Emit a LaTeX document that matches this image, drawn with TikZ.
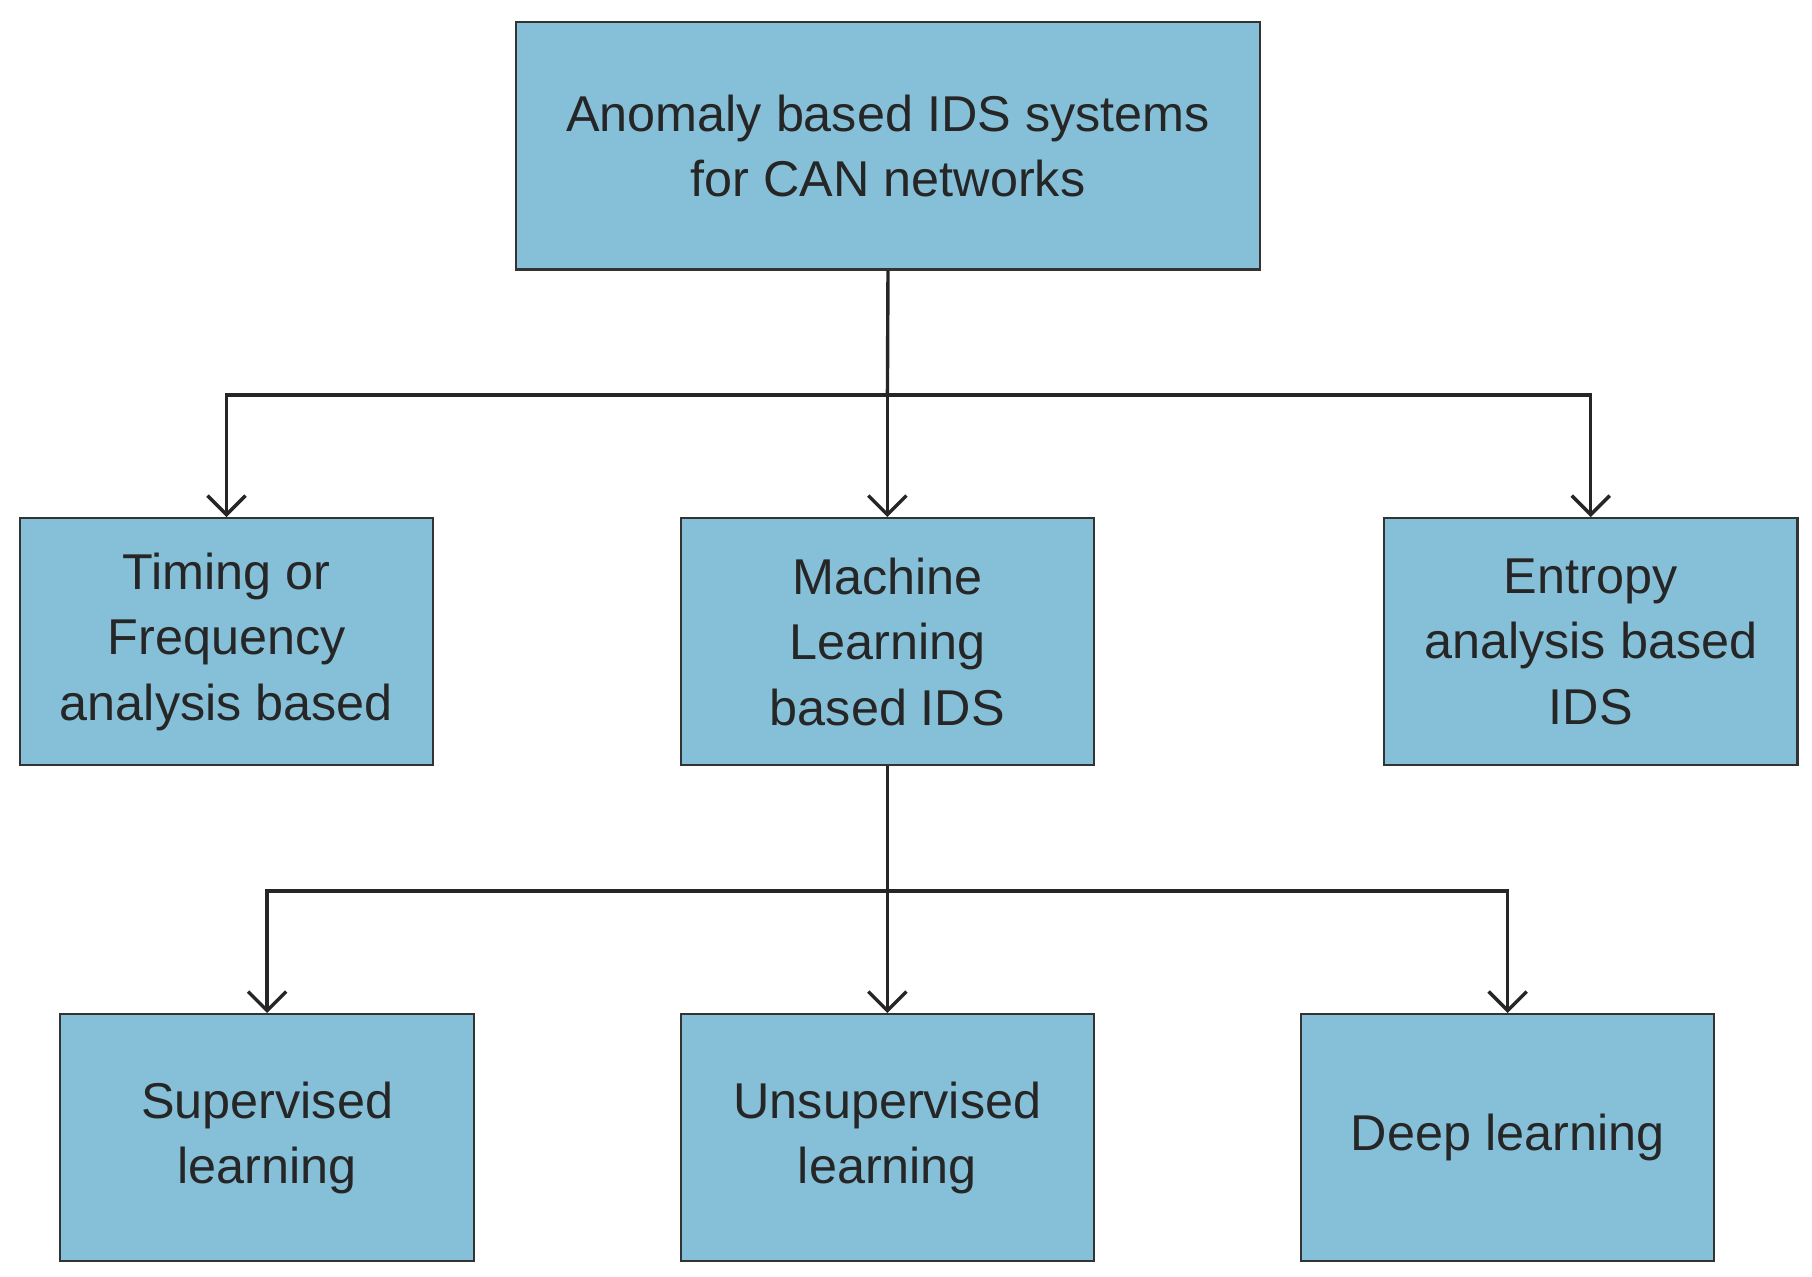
\documentclass[tikz,border=0pt]{standalone}
\usepackage{fontspec}
\setmainfont{Liberation Sans}
\usetikzlibrary{arrows.meta}
\begin{document}
\begin{tikzpicture}[x=0.03cm,y=-0.03cm,
  box/.style={draw=black!80,line width=1.5pt,fill=cyan!45!teal!55!white,minimum width=10.68cm,minimum height=6.39cm,align=center,font=\fontsize{37}{48}\selectfont,text=black!85,inner sep=0pt},
  conn/.style={line width=2.5pt,draw=black!85},
  arr/.style={conn,-{Straight Barb[length=14pt,width=28pt,line width=2.5pt]}}]
\useasboundingbox (0,0) rectangle (1560,1099);
\node[box,minimum width=19.23cm] (top) at (764.5,125.5) {Anomaly based IDS systems\\for CAN networks};
\node[box] (tim) at (195,552.5) {Timing or\\Frequency\\analysis based};
\node[box] (ml) at (764,552.5) {Machine\\Learning\\based IDS};
\node[box] (ent) at (1369.5,552.5) {Entropy\\analysis based\\IDS};
\node[box] (sup) at (230,979.5) {Supervised\\learning};
\node[box] (uns) at (764,979.5) {Unsupervised\\learning};
\node[box] (deep) at (1298,979.5) {Deep learning};
\coordinate (b1) at (764,340);
\coordinate (b2) at (764,767);
\draw[conn] (top.south) -- (b1);
\draw[arr] (b1) -- (ml.north);
\draw[arr] (b1) -| (tim.north);
\draw[arr] (b1) -| (ent.north);
\draw[conn] (ml.south) -- (b2);
\draw[arr] (b2) -- (uns.north);
\draw[arr] (b2) -| (sup.north);
\draw[arr] (b2) -| (deep.north);
\end{tikzpicture}
\end{document}
